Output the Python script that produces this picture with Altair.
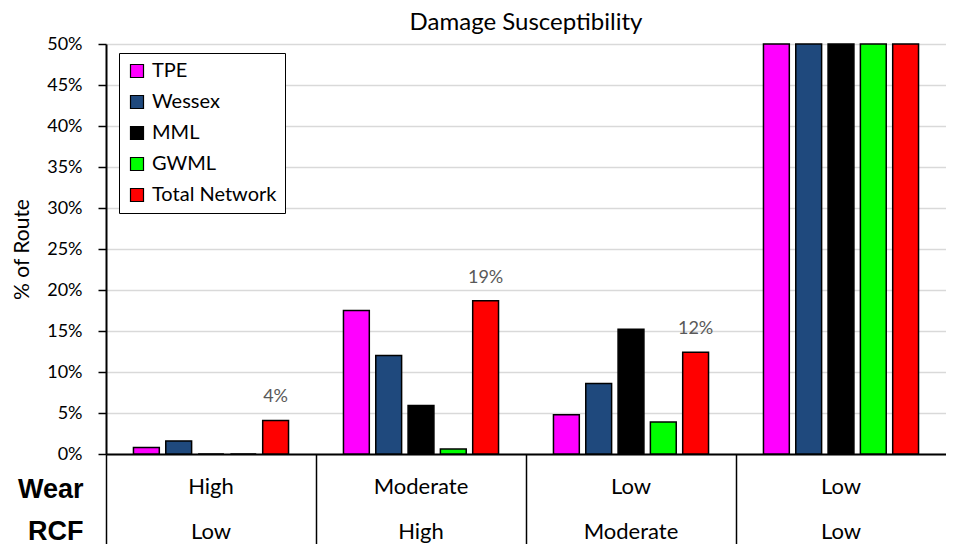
import altair as alt
import pandas as pd

GROUPS = ["High|Low", "Moderate|High", "Low|Moderate", "Low|Low"]
SERIES = ["TPE", "Wessex", "MML", "GWML", "Total Network"]
COLORS = ["#FF00FF", "#1F497D", "#000000", "#00FF00", "#FF0000"]

# share of route per group (4th group runs off the top of the axis)
TPE = [0.008, 0.175, 0.048, 0.769]
WESSEX = [0.016, 0.120, 0.086, 0.778]
MML = [0.0, 0.059, 0.152, 0.789]
GWML = [0.0, 0.006, 0.039, 0.955]
TOTAL = [0.041, 0.187, 0.124, 0.648]

TOTAL_LABELS = ["4%", "19%", "12%"]

Y_TICKS = [0, 0.05, 0.10, 0.15, 0.20, 0.25, 0.30, 0.35, 0.40, 0.45, 0.50]

FONT = "Lato"

rows = []
for name, vals in zip(SERIES, [TPE, WESSEX, MML, GWML, TOTAL]):
    for g, v in zip(GROUPS, vals):
        rows.append({"group": g, "series": name, "value": v})
df = pd.DataFrame(rows)

label_df = pd.DataFrame({
    "group": GROUPS[:3],
    "series": ["Total Network"] * 3,
    "value": TOTAL[:3],
    "text": TOTAL_LABELS,
})

x_scale = alt.Scale(paddingInner=0, paddingOuter=0)
off_scale = alt.Scale(paddingInner=0.2, paddingOuter=0.85)
y_scale = alt.Scale(domain=[0, 0.5], clamp=True)

bars = (
    alt.Chart(df)
    .mark_bar(stroke="black", strokeWidth=1.5)
    .encode(
        x=alt.X(
            "group:N",
            sort=GROUPS,
            scale=x_scale,
            axis=alt.Axis(
                orient="bottom",
                labels=False,
                title=None,
                bandPosition=0,
                tickSize=95,
                tickColor="black",
                tickWidth=1.5,
                domainColor="black",
                domainWidth=2,
                grid=False,
            ),
        ),
        xOffset=alt.XOffset("series:N", sort=SERIES, scale=off_scale),
        y=alt.Y(
            "value:Q",
            scale=y_scale,
            axis=alt.Axis(
                format=".0%",
                values=Y_TICKS,
                labelFontSize=18,
                labelFont=FONT,
                labelColor="black",
                labelPadding=16,
                tickSize=8,
                tickColor="black",
                tickWidth=1.5,
                domainColor="black",
                domainWidth=2,
                gridColor="#d9d9d9",
                gridWidth=1.5,
                title="% of Route",
                titleFont=FONT,
                titleFontSize=21,
                titleFontWeight="normal",
                titleColor="black",
                titlePadding=14,
            ),
        ),
        color=alt.Color(
            "series:N",
            sort=SERIES,
            scale=alt.Scale(domain=SERIES, range=COLORS),
            legend=alt.Legend(
                title=None,
                orient="none",
                legendX=13,
                legendY=9,
                symbolType="square",
                symbolSize=169,
                symbolStrokeColor="black",
                symbolStrokeWidth=1.2,
                symbolOpacity=1,
                labelFontSize=20,
                labelFont=FONT,
                labelColor="black",
                labelOffset=5,
                rowPadding=11,
                strokeColor="black",
                fillColor="white",
                padding=8,
            ),
        ),
    )
)

labels = (
    alt.Chart(label_df)
    .mark_text(baseline="bottom", dy=-14, fontSize=18, font=FONT, color="#595959")
    .encode(
        x=alt.X(
            "group:N",
            sort=GROUPS,
            scale=x_scale,
            axis=alt.Axis(
                orient="bottom",
                ticks=False,
                domain=False,
                grid=False,
                labelExpr="split(datum.label, '|')",
                labelAngle=0,
                labelBaseline="middle",
                labelPadding=32,
                labelLineHeight=45,
                labelFontSize=22,
                labelFont=FONT,
                labelColor="black",
                title=["Wear", "RCF"],
                titleX=-23,
                titleY=35,
                titleAlign="right",
                titleBaseline="middle",
                titleAngle=0,
                titleFont="Liberation Sans",
                titleFontSize=27,
                titleFontWeight="bold",
                titleColor="black",
                titleLineHeight=42,
            ),
        ),
        xOffset=alt.XOffset("series:N", sort=SERIES, scale=off_scale),
        y=alt.Y("value:Q", scale=y_scale),
        text="text:N",
    )
)

chart = (
    alt.layer(bars, labels)
    .resolve_axis(x="independent")
    .properties(
        width=840,
        height=410,
        padding={"left": 3, "top": 3, "right": 0, "bottom": 0},
        title=alt.TitleParams(
            "Damage Susceptibility",
            font=FONT,
            fontSize=24,
            fontWeight="normal",
            color="black",
            anchor="middle",
            offset=0,
        ),
    )
    .configure_view(stroke=None)
)

chart.save("out.html", embed_options={"renderer": "svg", "actions": False})
